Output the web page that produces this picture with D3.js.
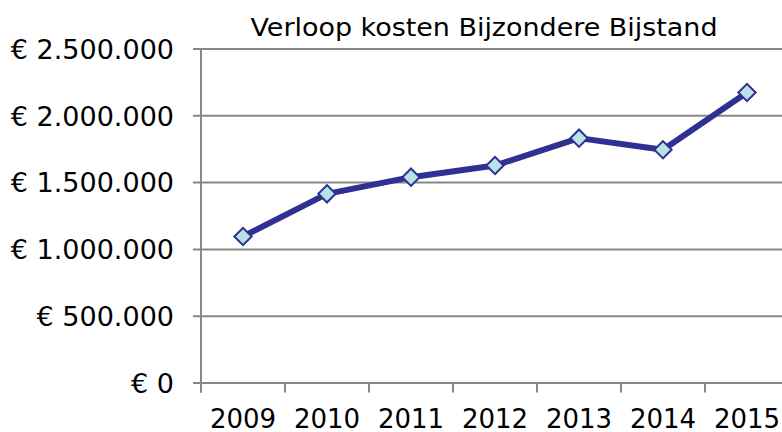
<!DOCTYPE html>
<html>
<head>
<meta charset="utf-8">
<script src="https://cdn.jsdelivr.net/npm/d3@7"></script>
<style>
  body { margin: 0; background: #fff; }
  text { font-family: "DejaVu Sans", Verdana, sans-serif; fill: #000; }
</style>
</head>
<body>
<script>
// data
var years = ['2009','2010','2011','2012','2013','2014','2015'];
var kosten = [1093000, 1412000, 1537000, 1624000, 1829000, 1742000, 2171000];
var yTicks = [0, 500000, 1000000, 1500000, 2000000, 2500000];

var W = 782, H = 432;
var m = {left: 201, right: 789, top: 48.5, bottom: 382.5};

var svg = d3.select('body').append('svg').attr('width', W).attr('height', H);

var x = d3.scaleBand().domain(years).range([m.left, m.right]);
var y = d3.scaleLinear().domain([0, 2500000]).range([m.bottom, m.top]);

function euro(v) {
  if (v === 0) return '€ 0';
  return '€ ' + d3.format(',')(v).replace(/,/g, '.');
}

// gridlines + y labels
var yAxis = d3.axisLeft(y).tickValues(yTicks).tickFormat(euro)
  .tickSize(-(W - m.left)).tickPadding(19);
var gy = svg.append('g').attr('transform', 'translate(' + m.left + ',0)').call(yAxis);
gy.select('.domain').remove();
gy.selectAll('.tick line').attr('x1', -8).attr('stroke', '#878787').attr('stroke-width', 2);
gy.selectAll('.tick text').attr('x', -27).style('font-size', '27px').attr('dy', '0.36em');

// y axis line
svg.append('line').attr('x1', m.left).attr('x2', m.left).attr('y1', m.top).attr('y2', m.bottom + 10)
  .attr('stroke', '#878787').attr('stroke-width', 2);

// x axis
var gx = svg.append('g').attr('transform', 'translate(0,' + m.bottom + ')')
  .call(d3.axisBottom(x).tickSize(0).tickPadding(27));
gx.select('.domain').remove();
gx.selectAll('.tick text').style('font-size', '26px');
svg.append('g').selectAll('line').data(years).enter().append('line')
  .attr('x1', function(d){ return x(d); }).attr('x2', function(d){ return x(d); })
  .attr('y1', m.bottom).attr('y2', m.bottom + 10)
  .attr('stroke', '#878787').attr('stroke-width', 2);

// line
var line = d3.line()
  .x(function(d, i){ return x(years[i]) + x.bandwidth() / 2; })
  .y(function(d){ return y(d); });
svg.append('path').datum(kosten).attr('d', line)
  .attr('fill', 'none').attr('stroke', '#2e3192').attr('stroke-width', 6)
  .attr('stroke-linejoin', 'round');

// markers
svg.append('g').selectAll('path').data(kosten).enter().append('path')
  .attr('d', d3.symbol().type(d3.symbolSquare).size(150))
  .attr('transform', function(d, i){
    return 'translate(' + (x(years[i]) + x.bandwidth() / 2) + ',' + y(d) + ') rotate(45)';
  })
  .attr('fill', '#b9e2e4').attr('stroke', '#2e3192').attr('stroke-width', 2);

// title
svg.append('text').attr('x', 484).attr('y', 36).attr('text-anchor', 'middle')
  .attr('textLength', 467).attr('lengthAdjust', 'spacingAndGlyphs')
  .style('font-size', '24px').text('Verloop kosten Bijzondere Bijstand');
</script>
</body>
</html>
